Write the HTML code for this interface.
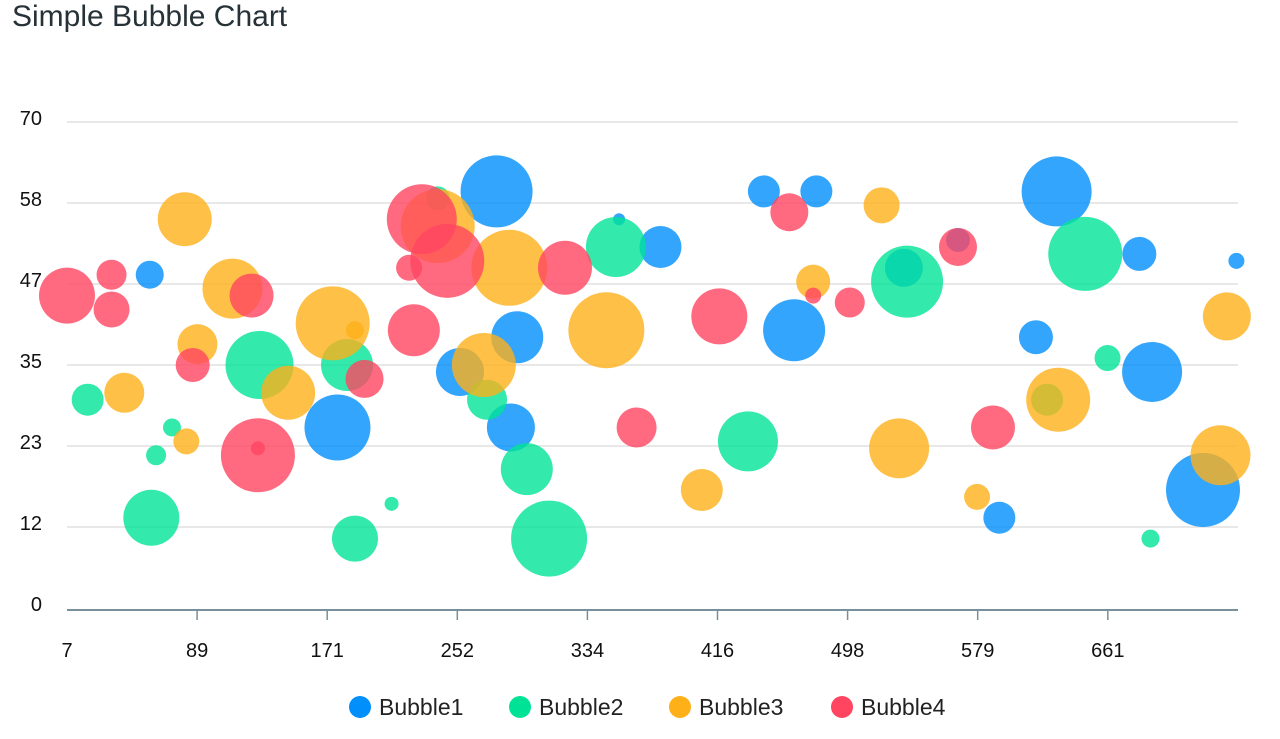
<!DOCTYPE html>
<html><head><meta charset="utf-8"><style>
body{margin:0;background:#fff;font-family:"Liberation Sans",sans-serif;}
svg text{font-family:"Liberation Sans",sans-serif;}
</style></head><body>
<svg id="chart" width="1280" height="734" xmlns="http://www.w3.org/2000/svg">
<text x="12" y="26" font-size="30" fill="#263238">Simple Bubble Chart</text>
<g id="grid"></g>
<g id="bubbles"></g>
<g id="axes"></g>
<g id="legend"></g>
</svg>
<script>
const xTicks=[7,89,171,252,334,416,498,579,661];
const yTicks=[0,12,23,35,47,58,70];
const seriesNames=["Bubble1","Bubble2","Bubble3","Bubble4"];
const colors=["#008FFB","#00E396","#FEB019","#FF4560"];
const b1x=[59,177,277,254,290,286,354,380,445,478,464,533,567,616,629,681,689,593,721,742];
const b1y=[48,26,60,34,39,26,56,52,60,60,40,49,53,39,60,51,34,13,17,50];
const b1z=[14,33,36,24,26,24,6,21,16,16,31,19,12,17,35,17,30,16,37,8];
const b2x=[20,60,73,63,128,183,188,211,240,271,296,310,352,435,535,623,647,661,688];
const b2y=[30,13,26,22,35,35,10,15,59,30,20,10,52,24,47,30,51,36,10];
const b2z=[16,28,9,10,34,26,23,7,12,20,26,38,30,30,36,16,37,13,9];
const b3x=[43,82,81,89,111,146,174,188,240,269,285,346,406,476,519,530,579,630,736,732];
const b3y=[31,24,56,38,46,31,41,40,55,35,49,40,17,47,58,23,16,30,42,22];
const b3z=[20,13,27,20,30,27,37,9,37,32,38,38,21,17,18,30,13,32,24,30];
const b4x=[7,35,35,86,123,127,127,194,222,225,230,246,320,365,417,461,476,499,567,589];
const b4y=[45,48,43,35,45,22,23,33,49,40,56,50,49,26,42,57,45,44,52,26];
const b4z=[28,15,18,17,22,37,7,19,13,26,35,37,27,20,28,19,8,15,19,22];
const seriesX=[b1x,b2x,b3x,b4x],seriesY=[b1y,b2y,b3y,b4y],seriesZ=[b1z,b2z,b3z,b4z];

const NS="http://www.w3.org/2000/svg";
const L=67,R=1238,T=122,B=608,xMin=7,xMax=743,yMax=70;
const xs=v=>L+(v-xMin)/(xMax-xMin)*(R-L);
const ys=v=>B-v/yMax*(B-T);
function mk(tag,at,parent){const e=document.createElementNS(NS,tag);for(const k in at)e.setAttribute(k,at[k]);parent.appendChild(e);return e;}
const grid=document.getElementById('grid'),axes=document.getElementById('axes'),bub=document.getElementById('bubbles'),leg=document.getElementById('legend');
yTicks.forEach((t,i)=>{
  const y=B-i*(B-T)/(yTicks.length-1);
  if(i>0){const g=mk('line',{x1:L,x2:R,y1:y,y2:y,stroke:'#e0e0e0','stroke-width':1.5},grid);
  
  }
  const tx=mk('text',{x:42,y:y+3,'text-anchor':'end','font-size':20,fill:'#111'},axes);
  tx.textContent=t;
  
  
});
const ax=mk('line',{x1:L,x2:R,y1:B+2,y2:B+2,stroke:'#78909C','stroke-width':2},axes);


xTicks.forEach((t,i)=>{
  const x=L+i*(130.1);
  if(i>0){const tk=mk('line',{x1:x,x2:x,y1:B+2,y2:B+12,stroke:'#78909C','stroke-width':1.5},axes);
  
  }
  const tx=mk('text',{x:x,y:657,'text-anchor':'middle','font-size':20,fill:'#111'},axes);
  tx.textContent=t;
  
  
});
seriesX.forEach((arr,s)=>{
  arr.forEach((v,i)=>{
    const c=mk('circle',{cx:xs(v),cy:ys(seriesY[s][i]),r:seriesZ[s][i],fill:colors[s],'fill-opacity':0.8},bub);
    
    
  });
});
const lx=[360,520,680,842];
seriesNames.forEach((n,i)=>{
  const c=mk('circle',{cx:lx[i],cy:707,r:11,fill:colors[i]},leg);
  
  
  const t=mk('text',{x:lx[i]+19,y:715,'font-size':23,fill:'#222'},leg);
  t.textContent=n;
  
  
});
</script>
</body></html>
